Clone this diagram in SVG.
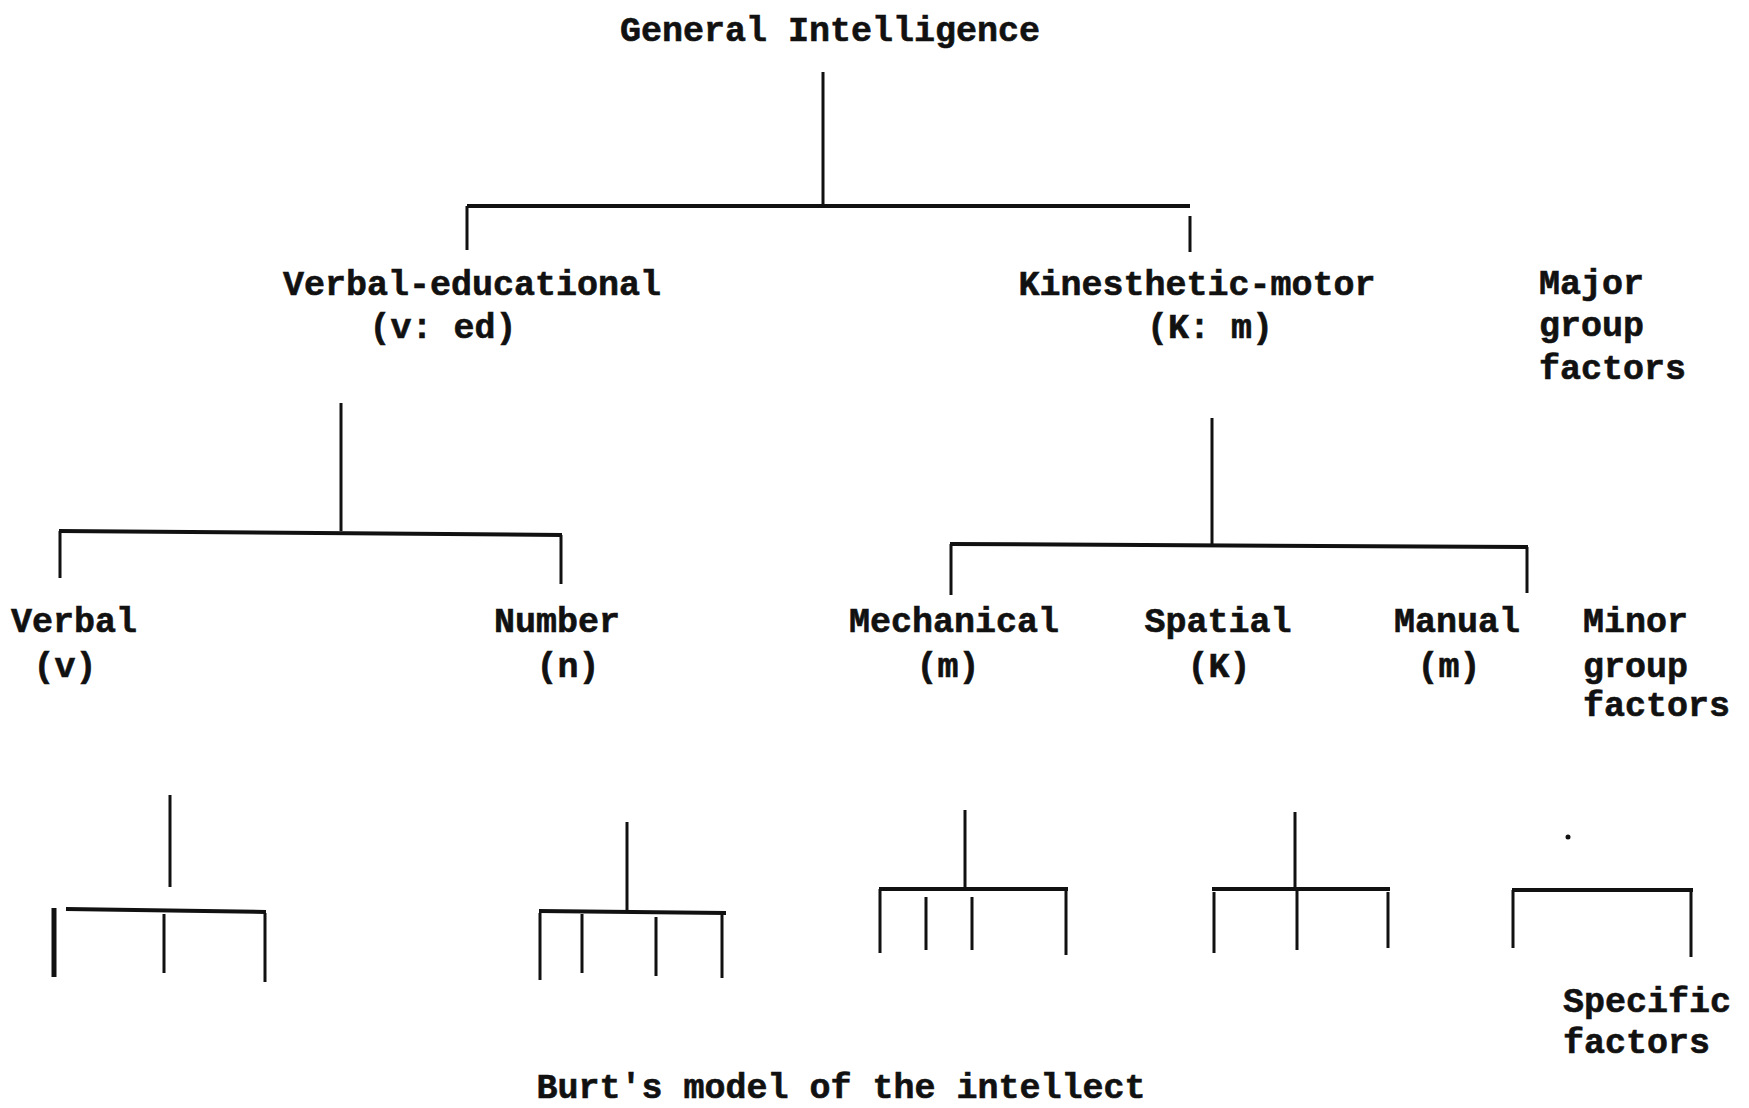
<svg xmlns="http://www.w3.org/2000/svg" width="1749" height="1108" viewBox="0 0 1749 1108">
  <style>
    text { font-family: "Liberation Mono", "Courier New", monospace; font-weight: bold; font-size: 35px; fill: #111; stroke: #111; stroke-width: 0.6; }
    .c { text-anchor: middle; }
    .s { text-anchor: start; }
    .ln { fill: none; stroke: #111; stroke-width: 3; stroke-linecap: butt; }
    .bar { fill: none; stroke: #111; stroke-width: 4; stroke-linecap: butt; }
  </style>
  <rect width="1749" height="1108" fill="#ffffff"/>

  <g id="n-general"><text class="c" x="830" y="41">General Intelligence</text></g>
  <g id="n-verbal-educational">
    <text class="c" x="472" y="295">Verbal-educational</text>
    <text class="c" x="443" y="338">(v: ed)</text>
  </g>
  <g id="n-kinesthetic-motor">
    <text class="c" x="1197" y="295">Kinesthetic-motor</text>
    <text class="c" x="1210" y="338">(K: m)</text>
  </g>
  <g id="label-major">
    <text class="s" x="1539" y="294">Major</text>
    <text class="s" x="1539" y="336">group</text>
    <text class="s" x="1539" y="379">factors</text>
  </g>
  <g id="n-verbal">
    <text class="c" x="74" y="632">Verbal</text>
    <text class="c" x="65" y="677">(v)</text>
  </g>
  <g id="n-number">
    <text class="c" x="557" y="632">Number</text>
    <text class="c" x="568" y="677">(n)</text>
  </g>
  <g id="n-mechanical">
    <text class="c" x="954" y="632">Mechanical</text>
    <text class="c" x="948" y="677">(m)</text>
  </g>
  <g id="n-spatial">
    <text class="c" x="1218" y="632">Spatial</text>
    <text class="c" x="1219" y="677">(K)</text>
  </g>
  <g id="n-manual">
    <text class="c" x="1457" y="632">Manual</text>
    <text class="c" x="1449" y="677">(m)</text>
  </g>
  <g id="label-minor">
    <text class="s" x="1583" y="632">Minor</text>
    <text class="s" x="1583" y="677">group</text>
    <text class="s" x="1583" y="716">factors</text>
  </g>
  <g id="label-specific">
    <text class="s" x="1563" y="1012">Specific</text>
    <text class="s" x="1563" y="1053">factors</text>
  </g>
  <g id="caption"><text class="c" x="841" y="1098">Burt's model of the intellect</text></g>

  <g id="connectors">
    <!-- level 0 -->
    <path class="ln" d="M823,72 V206"/>
    <path class="bar" d="M467,206 H1190"/>
    <path class="ln" d="M467,206 V250 M1190,216 V252"/>
    <!-- verbal-educational -->
    <path class="ln" d="M341,403 V531"/>
    <path class="bar" d="M59,531 L562,535"/>
    <path class="ln" d="M60,531 V578 M561,535 V584"/>
    <!-- kinesthetic-motor -->
    <path class="ln" d="M1212,418 V545"/>
    <path class="bar" d="M950,544 L1528,547"/>
    <path class="ln" d="M951,544 V595 M1527,547 V593"/>
    <!-- verbal -->
    <path class="ln" d="M170,795 V887"/>
    <path class="bar" d="M66,909 L266,912"/>
    <path class="ln" d="M164,914 V973 M265,913 V982"/>
    <path class="ln" style="stroke-width:5" d="M54,908 V977"/>
    <!-- number -->
    <path class="ln" d="M627,822 V912"/>
    <path class="bar" d="M539,911 L726,913"/>
    <path class="ln" d="M540,913 V980 M582,914 V973 M656,917 V976 M722,913 V978"/>
    <!-- mechanical -->
    <path class="ln" d="M965,810 V890"/>
    <path class="bar" d="M879,889 H1068"/>
    <path class="ln" d="M880,889 V953 M926,897 V950 M972,897 V950 M1066,889 V955"/>
    <!-- spatial -->
    <path class="ln" d="M1295,812 V889"/>
    <path class="bar" d="M1212,889 H1390"/>
    <path class="ln" d="M1214,892 V953 M1297,889 V950 M1388,892 V948"/>
    <!-- manual -->
    <circle cx="1568" cy="837" r="2.5" fill="#111"/>
    <path class="bar" d="M1512,890 H1693"/>
    <path class="ln" d="M1513,890 V948 M1691,891 V957"/>
  </g>
</svg>
